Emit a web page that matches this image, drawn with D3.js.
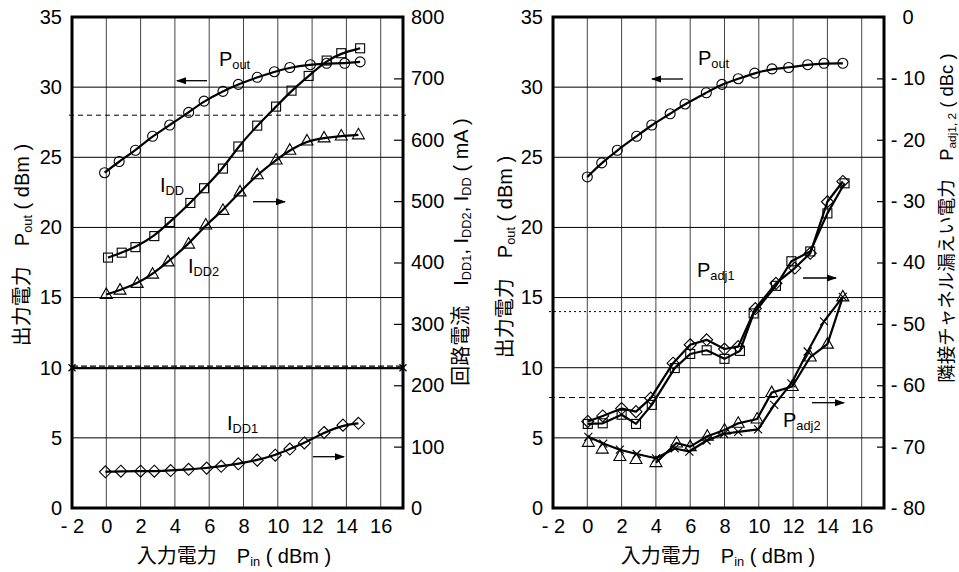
<!DOCTYPE html>
<html><head><meta charset="utf-8">
<script src="https://cdn.jsdelivr.net/npm/d3@7"></script>
<style>
body{margin:0;background:#fff}
svg{display:block}
text{font-family:"Liberation Sans",Arial,"Noto Sans CJK JP",sans-serif;fill:#000}
</style>
</head><body>
<svg id="c" width="959" height="572"></svg>
<script>
// ---------- tick values ----------
const pinTicks = [-2,0,2,4,6,8,10,12,14,16];
const poutTicks = [0,5,10,15,20,25,30,35];
const iddTicks = [0,100,200,300,400,500,600,700,800];
const padjTicks = [0,-10,-20,-30,-40,-50,-60,-70,-80];
const gridX = [0,2,4,6,8,10,12,14,16];
const gridY = [5,10,15,20,25,30];

// ---------- left chart data ----------
const pinPoutL = [-0.1,0.75,1.7,2.7,3.7,4.8,5.7,6.8,7.7,8.8,9.8,10.7,11.9,12.85,13.9,14.8];
const poutL    = [23.9,24.7,25.5,26.5,27.3,28.2,29.0,29.7,30.2,30.7,31.1,31.4,31.6,31.7,31.7,31.8];
const pinIdd   = [0.1,0.9,1.7,2.8,3.7,4.9,5.7,6.8,7.7,8.8,9.9,10.8,11.8,12.85,13.7,14.8];
const idd      = [408,416,425,443,466,497,521,553,589,623,654,680,704,729,741,749];
const pinIdd2  = [0,0.8,1.8,2.7,3.6,4.8,5.8,6.8,7.8,8.8,9.9,10.7,11.7,12.7,13.7,14.7];
const idd2     = [348,355,366,381,401,430,461,485,515,543,567,583,598,603,606,608];
const pinIdd1  = [-0.05,0.85,2.0,2.8,3.75,4.8,5.85,6.7,7.7,8.8,9.85,10.7,11.55,12.7,13.8,14.7];
const idd1     = [59,60,60,60,61,63,65,68,72,78,86,96,106,123,135,138];

// ---------- right chart data ----------
const pinPoutR = [0,0.84,1.75,2.88,3.76,4.83,5.7,6.94,7.85,8.8,9.76,10.77,11.74,12.85,13.8,14.9];
const poutR    = [23.6,24.6,25.5,26.5,27.3,28.1,28.8,29.6,30.2,30.6,31.0,31.3,31.4,31.6,31.7,31.7];
const pinAdj1Sq = [0.03,0.9,2.0,2.84,3.76,5.1,6.0,6.96,8.0,8.9,9.7,11.0,11.9,13.0,14.0,15.0];
const adj1Sq    = [-66.3,-66.2,-64.8,-66.3,-63.2,-57.2,-54.9,-54.3,-55.7,-54.4,-48.3,-43.8,-39.8,-38.2,-32.0,-27.1];
const pinAdj1Dm = [0.03,0.9,2.0,2.84,3.7,5.0,6.0,6.96,8.0,8.8,9.8,11.0,12.1,13.0,14.0,14.9];
const adj1Dm    = [-65.9,-65.0,-63.8,-64.3,-62.1,-56.4,-53.4,-52.6,-54.1,-53.7,-47.5,-43.4,-40.9,-38.5,-30.1,-26.8];
const pinAdj2Tr = [0.06,0.87,1.9,2.84,4.0,5.2,6.0,7.0,8.0,8.8,9.9,10.75,11.95,13.0,14.0,14.9];
const adj2Tr    = [-69.3,-70.4,-71.6,-72.1,-72.6,-69.4,-70.0,-68.3,-67.3,-66.2,-65.5,-61.2,-60.2,-55.4,-53.3,-45.6];
const pinAdj2X  = [0.06,0.93,1.9,2.88,4.0,5.1,5.95,6.96,7.97,8.8,9.96,10.9,11.9,12.85,13.8,14.9];
const adj2X     = [-68.4,-69.5,-70.5,-71.2,-71.9,-70.3,-70.8,-69.0,-67.9,-67.6,-67.2,-63.2,-59.7,-54.5,-49.6,-45.6];

// reference lines
const refLeftDashed = 28;   // dBm
const refLeftBold = 10;     // dBm
const refRightDotted = -48; // dBc
const refRightDashed = -62; // dBc

const zip = (xs, ys) => xs.map((x,i)=>({x, y:ys[i]}));
const fmt = d => d < 0 ? "- " + (-d) : String(d);

const svg = d3.select("#c");
const defs = svg.append("defs");
defs.append("marker").attr("id","ah").attr("viewBox","0 0 10 10").attr("refX",9).attr("refY",5)
  .attr("markerWidth",10).attr("markerHeight",10).attr("markerUnits","userSpaceOnUse").attr("orient","auto")
  .append("path").attr("d","M0,1.5 L10,5 L0,8.5 Z").attr("fill","#000");

const TOP = 17, BOT = 508;
const FS = 20;

function richText(sel, parts, size) {
  const shift = size*0.14;
  let inSub = false;
  parts.forEach(p => {
    const ts = sel.append("tspan").text(p.t);
    if (p.sub) {
      ts.attr("font-size", size*0.64);
      if (!inSub) ts.attr("dy", shift);
      inSub = true;
    } else {
      ts.attr("font-size", size);
      if (inSub) ts.attr("dy", -shift);
      inSub = false;
    }
  });
  return sel;
}

function arrow(x1,y,x2){
  svg.append("line").attr("x1",x1).attr("y1",y).attr("x2",x2).attr("y2",y)
    .attr("stroke","#000").attr("stroke-width",1.3).attr("marker-end","url(#ah)");
}

function drawMarkers(g, x, y, pts, type) {
  const s = g.append("g").attr("fill","none").attr("stroke","#000").attr("stroke-width",1.1);
  pts.forEach(p => {
    const cx = x(p.x), cy = y(p.y);
    if (type === "circle") s.append("circle").attr("cx",cx).attr("cy",cy).attr("r",5);
    else if (type === "square") s.append("rect").attr("x",cx-4.5).attr("y",cy-4.5).attr("width",9).attr("height",9);
    else if (type === "triangle") s.append("path").attr("d",`M${cx},${cy-6.5}L${cx+6},${cy+4}L${cx-6},${cy+4}Z`);
    else if (type === "diamond") s.append("path").attr("d",`M${cx},${cy-6}L${cx+6},${cy}L${cx},${cy+6}L${cx-6},${cy}Z`);
    else if (type === "cross") s.append("path").attr("d",`M${cx-4},${cy-4}L${cx+4},${cy+4}M${cx-4},${cy+4}L${cx+4},${cy-4}`);
  });
}

function frame(x, yL) {
  const g = svg.append("g");
  const [x0,x1] = x.range();
  gridX.forEach(v => g.append("line").attr("x1",x(v)).attr("x2",x(v)).attr("y1",TOP).attr("y2",BOT)
    .attr("stroke","#444").attr("stroke-width",1));
  gridY.forEach(v => g.append("line").attr("x1",x0).attr("x2",x1).attr("y1",yL(v)).attr("y2",yL(v))
    .attr("stroke","#000").attr("stroke-width",1));
  return g;
}
function border(x){
  const [x0,x1] = x.range();
  svg.append("rect").attr("x",x0).attr("y",TOP).attr("width",x1-x0).attr("height",BOT-TOP)
    .attr("fill","none").attr("stroke","#000").attr("stroke-width",3);
}
function styleAxis(g){
  g.attr("font-family",null).attr("font-size",FS);
  g.select(".domain").remove();
  g.selectAll("text").attr("fill","#000");
  g.selectAll("line").attr("stroke","#000").attr("stroke-width",1.2);
}

// =============== LEFT CHART ===============
const xL = d3.scaleLinear().domain([-2,17.3]).range([72,403]);
const yL = d3.scaleLinear().domain([0,35]).range([BOT,TOP]);
const yI = d3.scaleLinear().domain([0,800]).range([BOT,TOP]);

frame(xL, yL);
svg.append("line").attr("x1",xL.range()[0]-3).attr("x2",xL.range()[1]+3)
  .attr("y1",yL(refLeftDashed)).attr("y2",yL(refLeftDashed))
  .attr("stroke","#000").attr("stroke-width",1).attr("stroke-dasharray","5,4");
svg.append("line").attr("x1",xL.range()[0]).attr("x2",xL.range()[1])
  .attr("y1",yL(refLeftBold)+0.5).attr("y2",yL(refLeftBold)+0.5).attr("stroke","#000").attr("stroke-width",2);
svg.append("line").attr("x1",xL.range()[0]).attr("x2",xL.range()[1])
  .attr("y1",yL(refLeftBold)-1.5).attr("y2",yL(refLeftBold)-1.5).attr("stroke","#000").attr("stroke-width",1.2)
  .attr("stroke-dasharray","6,3");
[xL.range()[0], xL.range()[1]].forEach(cx => {
  const cy = yL(refLeftBold);
  svg.append("path").attr("d",`M${cx-3.5},${cy-3.5}L${cx+3.5},${cy+3.5}M${cx-3.5},${cy+3.5}L${cx+3.5},${cy-3.5}`)
    .attr("stroke","#000").attr("stroke-width",1.2);
});

const lineSmooth = (x,y) => d3.line().x(d=>x(d.x)).y(d=>y(d.y)).curve(d3.curveBasis);
const lineLin = (x,y) => d3.line().x(d=>x(d.x)).y(d=>y(d.y));

const gL = svg.append("g");
[[zip(pinPoutL,poutL), yL, "circle"],
 [zip(pinIdd,idd), yI, "square"],
 [zip(pinIdd2,idd2), yI, "triangle"],
 [zip(pinIdd1,idd1), yI, "diamond"]].forEach(([pts, y, type]) => {
  gL.append("path").attr("d", lineSmooth(xL,y)(pts)).attr("fill","none").attr("stroke","#000").attr("stroke-width",2.2);
  drawMarkers(gL, xL, y, pts, type);
});
border(xL);

styleAxis(svg.append("g").attr("transform",`translate(0,${BOT})`)
  .call(d3.axisBottom(xL).tickValues(pinTicks).tickSize(0).tickPadding(11).tickFormat(fmt)));
styleAxis(svg.append("g").attr("transform",`translate(${xL.range()[0]},0)`)
  .call(d3.axisLeft(yL).tickValues(poutTicks).tickSize(0).tickPadding(10).tickFormat(fmt)));
const axIR = svg.append("g").attr("transform",`translate(${xL.range()[1]},0)`)
  .call(d3.axisRight(yI).tickValues(iddTicks).tickSize(-9).tickPadding(8).tickFormat(fmt));
styleAxis(axIR);
axIR.selectAll("text").attr("x",8);

richText(svg.append("text").attr("x",219).attr("y",66), [{t:"P"},{t:"out",sub:true}], FS);
arrow(207,80.7,177);
richText(svg.append("text").attr("x",160).attr("y",192), [{t:"I"},{t:"DD",sub:true}], FS);
arrow(253,201.7,285);
richText(svg.append("text").attr("x",188).attr("y",273), [{t:"I"},{t:"DD2",sub:true}], FS);
richText(svg.append("text").attr("x",227).attr("y",430), [{t:"I"},{t:"DD1",sub:true}], FS);
arrow(313,456.7,344);

// =============== RIGHT CHART ===============
const xR = d3.scaleLinear().domain([-2,17.3]).range([553,884]);
const yR = d3.scaleLinear().domain([0,35]).range([BOT,TOP]);
const yA = d3.scaleLinear().domain([-80,0]).range([BOT,TOP]);

frame(xR, yR);
svg.append("line").attr("x1",xR.range()[0]-4).attr("x2",xR.range()[1]+4)
  .attr("y1",yA(refRightDotted)).attr("y2",yA(refRightDotted))
  .attr("stroke","#000").attr("stroke-width",1).attr("stroke-dasharray","2,3");
svg.append("line").attr("x1",xR.range()[0]-4).attr("x2",xR.range()[1]+4)
  .attr("y1",yA(refRightDashed)).attr("y2",yA(refRightDashed))
  .attr("stroke","#000").attr("stroke-width",1).attr("stroke-dasharray","6,4");

const gR = svg.append("g");
const poutRPts = zip(pinPoutR,poutR);
gR.append("path").attr("d", lineSmooth(xR,yR)(poutRPts)).attr("fill","none").attr("stroke","#000").attr("stroke-width",2.2);
drawMarkers(gR, xR, yR, poutRPts, "circle");

const adjSeries = [
  [zip(pinAdj1Sq,adj1Sq), "square", 0],
  [zip(pinAdj1Dm,adj1Dm), "diamond", 0],
  [zip(pinAdj2Tr,adj2Tr), "triangle", 4],
  [zip(pinAdj2X,adj2X), "cross", 0]
];
adjSeries.forEach(([pts, type, from]) => {
  gR.append("path").attr("d", lineLin(xR,yA)(pts.filter(p=>p.x>=from))).attr("fill","none")
    .attr("stroke","#000").attr("stroke-width",2.2).attr("stroke-linejoin","round");
  drawMarkers(gR, xR, yA, pts, type);
});
border(xR);

styleAxis(svg.append("g").attr("transform",`translate(0,${BOT})`)
  .call(d3.axisBottom(xR).tickValues(pinTicks).tickSize(0).tickPadding(11).tickFormat(fmt)));
styleAxis(svg.append("g").attr("transform",`translate(${xR.range()[0]},0)`)
  .call(d3.axisLeft(yR).tickValues(poutTicks).tickSize(0).tickPadding(10).tickFormat(fmt)));
const axAR = svg.append("g").attr("transform",`translate(${xR.range()[1]},0)`)
  .call(d3.axisRight(yA).tickValues(padjTicks).tickSize(-7).tickPadding(8).tickFormat(fmt));
styleAxis(axAR);
axAR.selectAll("text").attr("x",24).attr("text-anchor","middle");

richText(svg.append("text").attr("x",698).attr("y",65), [{t:"P"},{t:"out",sub:true}], FS);
arrow(683,79,652);
richText(svg.append("text").attr("x",697).attr("y",277), [{t:"P"},{t:"adj1",sub:true}], FS);
arrow(803,278,836);
richText(svg.append("text").attr("x",783).attr("y",427), [{t:"P"},{t:"adj2",sub:true}], FS);
arrow(812,402.7,844);

// =============== AXIS TITLES ===============
function title(x, y, rot, parts, size) {
  const t = svg.append("text").attr("text-anchor","middle")
    .attr("transform",`translate(${x},${y})${rot?" rotate(-90)":""}`);
  richText(t, parts, size || FS);
}
title(234, 563, false, [{t:"入力電力　"},{t:"P"},{t:"in",sub:true},{t:"  ( dBm )"}]);
title(718, 563, false, [{t:"入力電力　"},{t:"P"},{t:"in",sub:true},{t:"  ( dBm )"}]);
title(29, 245, true, [{t:"出力電力　"},{t:"P"},{t:"out",sub:true},{t:" ( dBm )"}]);
title(468, 252, true, [{t:"回路電流　"},{t:"I"},{t:"DD1",sub:true},{t:", I"},{t:"DD2",sub:true},{t:", I"},{t:"DD",sub:true},{t:" ( mA )"}]);
title(512, 257, true, [{t:"出力電力　"},{t:"P"},{t:"out",sub:true},{t:" ( dBm )"}]);
title(953, 218, true, [{t:"隣接チャネル漏えい電力　"},{t:"P"},{t:"adj1, 2",sub:true},{t:" ( dBc )"}], 18.5);
</script>
</body></html>
